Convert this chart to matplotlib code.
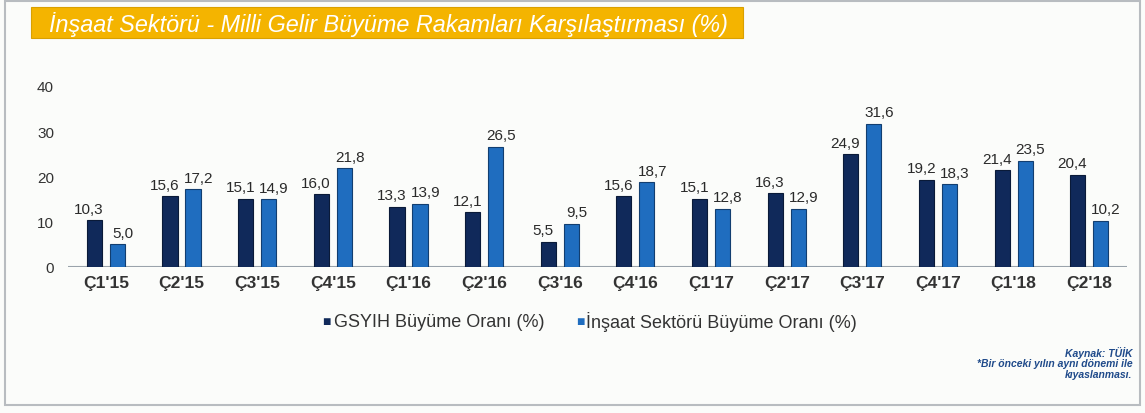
import numpy as np
import matplotlib.pyplot as plt
from matplotlib.patches import Rectangle

# veriler
donemler = ["Ç1'15", "Ç2'15", "Ç3'15", "Ç4'15", "Ç1'16", "Ç2'16", "Ç3'16",
            "Ç4'16", "Ç1'17", "Ç2'17", "Ç3'17", "Ç4'17", "Ç1'18", "Ç2'18"]
gsyih = [10.3, 15.6, 15.1, 16.0, 13.3, 12.1, 5.5, 15.6, 15.1, 16.3, 24.9, 19.2, 21.4, 20.4]
insaat = [5.0, 17.2, 14.9, 21.8, 13.9, 26.5, 9.5, 18.7, 12.8, 12.9, 31.6, 18.3, 23.5, 10.2]
y_ticks = [0, 10, 20, 30, 40]

KOYU = '#10295a'
ACIK = '#1f6dbf'
plt.rcParams['font.family'] = ['Liberation Sans', 'DejaVu Sans']

fig = plt.figure(figsize=(11.45, 4.14), dpi=100)
fig.patch.set_facecolor('#fbfcfa')

# cerceve
fig.add_artist(Rectangle((0.004, 0.02), 0.992, 0.975, transform=fig.transFigure,
                         fill=False, edgecolor='#b8bcc0', linewidth=1.5))

# baslik kutusu
fig.add_artist(Rectangle((0.027, 0.905), 0.622, 0.075, transform=fig.transFigure,
                         facecolor='#f4b400', edgecolor='#d9a000', linewidth=0.8))
fig.text(0.043, 0.941, "İnşaat Sektörü - Milli Gelir Büyüme Rakamları Karşılaştırması (%)",
         color='white', fontsize=16.8, style='italic', va='center', ha='left')

ax = fig.add_axes([0.0594, 0.353, 0.925, 0.437])
ax.set_facecolor('none')
x = np.arange(len(donemler))
w = 0.2
off = 0.152
ax.bar(x - off, gsyih, w, color=KOYU, edgecolor='#0a1a38', linewidth=0.8)
ax.bar(x + off, insaat, w, color=ACIK, edgecolor='#123e70', linewidth=0.8)

for xi, v in zip(x, gsyih):
    ax.text(xi - off - 0.07, v + 1.0, f"{v:.1f}".replace('.', ','), ha='center', va='bottom',
            fontsize=11, color='#2a2a2a')
for xi, v in zip(x, insaat):
    ax.text(xi + off + 0.07, v + 1.0, f"{v:.1f}".replace('.', ','), ha='center', va='bottom',
            fontsize=11, color='#2a2a2a')

ax.axhline(0, color='#9aa3ab', linewidth=1.5, zorder=0)
ax.set_xlim(-0.5, 13.5)
ax.set_ylim(0, 40)
ax.set_xticks(x)
ax.set_xticklabels(donemler, fontsize=12.5, fontweight='bold', color='#333333')
ax.set_yticks(y_ticks)
ax.set_yticklabels([str(t) for t in y_ticks], fontsize=11, color='#333333')
ax.tick_params(axis='both', length=0)
ax.tick_params(axis='y', pad=10)
ax.tick_params(axis='x', pad=6)
for s in ax.spines.values():
    s.set_visible(False)

# lejant
fig.text(0.281, 0.222, "■", color=KOYU, fontsize=10, va='center')
fig.text(0.2917, 0.222, "GSYIH Büyüme Oranı (%)", color='#333333', fontsize=13, va='center')
fig.text(0.503, 0.222, "■", color=ACIK, fontsize=10, va='center')
fig.text(0.512, 0.222, "İnşaat Sektörü Büyüme Oranı (%)", color='#333333', fontsize=13, va='center')

# kaynak
fig.text(0.989, 0.147, "Kaynak: TÜİK", color='#1f4a8a', fontsize=7.5, style='italic',
         fontweight='bold', ha='right', va='center')
fig.text(0.989, 0.121, "*Bir önceki yılın aynı dönemi ile", color='#1f4a8a', fontsize=7.5,
         style='italic', fontweight='bold', ha='right', va='center')
fig.text(0.989, 0.095, "kıyaslanması.", color='#1f4a8a', fontsize=7.5, style='italic',
         fontweight='bold', ha='right', va='center')

fig.savefig('out.png', dpi=100, facecolor=fig.get_facecolor())
